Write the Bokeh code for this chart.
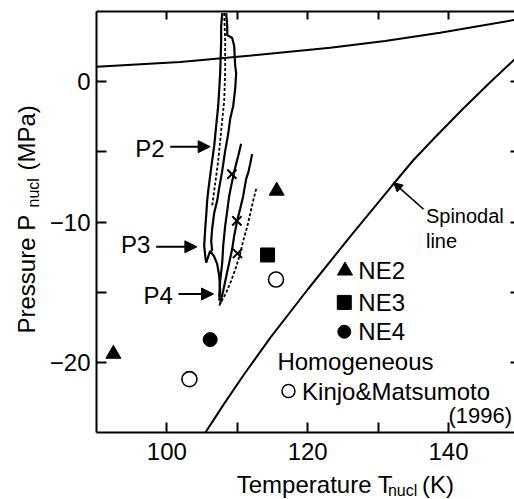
import math
from bokeh.plotting import figure
from bokeh.layouts import row, column
from bokeh.models import (LinearAxis, FixedTicker, CustomJSTickFormatter, Label,
                          Arrow, NormalHead, Range1d)
from bokeh.embed import file_html
from bokeh.resources import INLINE

FONT = "Liberation Sans"

# ---------------- data ----------------
# axis ticks
x_major = [100, 120, 140]
x_minor = [110, 130]
x_top = [100, 110, 120, 130, 140]
y_major = [-20, -10, 0]
y_minor = [-15, -5]
y_right = [-20, -15, -10, -5, 0]

# coexistence (saturation) line
coex_T = [90.0, 101.9, 112.0, 123.2, 131.0, 138.8, 149.3, 150.0]
coex_P = [1.07, 1.40, 1.86, 2.42, 2.90, 3.49, 4.39, 4.45]

# spinodal line
spin_T = [105.0, 105.4, 108.0, 111.0, 114.7, 120.0, 126.0, 132.0, 135.0, 138.0,
          142.0, 146.0, 150.0]
spin_P = [-25.37, -25.06, -23.05, -20.83, -18.24, -14.81, -11.06, -7.40, -5.60, -4.01,
          -1.97, -0.01, 1.88]

# nucleation points
ne2_T = [92.4, 115.6]
ne2_P = [-19.4, -7.78]
ne3_T = [114.3]
ne3_P = [-12.35]
ne4_T = [106.15]
ne4_P = [-18.38]
km_T = [103.2, 115.5]          # Homogeneous, Kinjo & Matsumoto (1996)
km_P = [-21.2, -14.1]
cross_T = [109.23, 109.94, 110.03]
cross_P = [-6.59, -9.92, -12.24]

# recorded T-P traces (solid parts)
p2_left_T = [107.86, 107.71, 107.71, 107.57, 107.29, 107.00, 106.72, 106.29, 105.87,
             105.72, 105.58, 105.44, 105.30, 105.44, 105.58]
p2_left_P = [4.89, 3.96, 2.90, 0.62, -1.73, -3.15, -4.58, -6.14, -7.78,
             -8.49, -9.56, -10.48, -11.69, -12.40, -12.90]
p3_foot_T = [105.58, 106.15, 106.72, 107.14, 107.43, 107.57, 107.43]
p3_foot_P = [-12.90, -12.05, -12.47, -12.98, -13.83, -14.90, -15.61]
p2_right_T = [108.42, 108.57, 108.57, 109.28, 109.56, 109.70, 109.84, 109.70, 109.42,
              108.99, 108.71, 108.28, 107.86, 107.43, 107.14, 106.72, 106.43, 106.29, 106.43]
p2_right_P = [4.89, 3.96, 3.32, 3.11, 2.54, 1.12, 0.62, -0.52, -1.73,
              -2.65, -3.72, -4.93, -6.36, -7.57, -8.49, -9.35, -10.48, -11.34, -12.05]
p3_T = [110.55, 110.13, 109.70, 109.28, 108.85, 108.57, 108.28, 108.00, 107.86, 107.57, 107.43]
p3_P = [-4.43, -5.29, -6.14, -7.07, -8.14, -9.20, -10.27, -11.69, -12.90, -14.19, -15.32]
p4_T = [112.11, 111.83, 111.55, 111.26, 110.84, 110.41, 109.98, 109.56, 109.28,
        108.85, 108.42, 108.00, 107.57]
p4_P = [-5.15, -5.86, -6.50, -6.93, -8.14, -9.06, -9.92, -10.98, -11.91,
        -12.90, -13.90, -14.90, -15.82]
# recorded traces (dashed parts)
p2_dash_T = [108.14, 108.28, 108.28, 108.14, 107.71, 107.29, 106.72, 106.43]
p2_dash_P = [4.89, 2.90, 0.76, -1.37, -3.51, -5.64, -7.78, -8.85]
p4_dash_T = [112.68, 112.26, 111.83, 111.41, 110.84, 110.41, 109.84, 109.13, 108.42, 107.43]
p4_dash_P = [-7.64, -8.49, -9.42, -10.34, -11.34, -12.26, -13.19, -14.19, -15.04, -15.96]

# ---------------- main figure ----------------
p = figure(width=470, height=470, x_range=Range1d(90, 149.38), y_range=Range1d(-25, 5),
           x_axis_type=None, y_axis_type=None, output_backend="svg",
           toolbar_location=None, min_border_left=52, min_border_right=0,
           min_border_top=11, min_border_bottom=38)
p.outline_line_color = None
p.background_fill_color = "white"
p.border_fill_color = "white"

common = dict(axis_line_width=2, axis_line_color="black",
              major_tick_line_width=2, minor_tick_line_width=2,
              major_tick_out=0, minor_tick_out=0,
              major_label_text_font=FONT)

bottom = LinearAxis(ticker=FixedTicker(ticks=x_major, minor_ticks=x_minor),
                    major_tick_in=10, minor_tick_in=10, major_label_text_color="black",
                    major_label_text_font_size="24px", major_label_standoff=10, **common)
p.add_layout(bottom, "below")

left = LinearAxis(ticker=FixedTicker(ticks=y_major, minor_ticks=y_minor),
                  major_tick_in=10, minor_tick_in=10, major_label_text_color="black",
                  major_label_text_font_size="24px", major_label_standoff=6,
                  formatter=CustomJSTickFormatter(
                      code="return tick < 0 ? '\u2212' + Math.abs(tick) : String(tick);"),
                  **common)
p.add_layout(left, "left")

top = LinearAxis(ticker=FixedTicker(ticks=x_top, minor_ticks=[]),
                 major_tick_in=8, minor_tick_in=0, major_label_text_color=None,
                 major_label_text_font_size="0px", major_label_standoff=0, **common)
p.add_layout(top, "above")

right_common = dict(common)
right_common["axis_line_color"] = None
right = LinearAxis(ticker=FixedTicker(ticks=y_right, minor_ticks=[]),
                   major_tick_in=4, minor_tick_in=0, major_label_text_color=None,
                   major_label_text_font_size="0px", major_label_standoff=0, **right_common)
p.add_layout(right, "right")

# curves
p.line(coex_T, coex_P, line_color="black", line_width=2)
p.line(spin_T, spin_P, line_color="black", line_width=2)

for tx, ty in [(p2_left_T, p2_left_P), (p3_foot_T, p3_foot_P), (p2_right_T, p2_right_P),
               (p3_T, p3_P), (p4_T, p4_P)]:
    p.line(tx, ty, line_color="black", line_width=2.2)
for tx, ty in [(p2_dash_T, p2_dash_P), (p4_dash_T, p4_dash_P)]:
    p.line(tx, ty, line_color="black", line_width=1.8, line_dash="3 2")

# points
p.scatter(cross_T, cross_P, marker="x", size=13, line_color="black", line_width=2)
p.scatter(ne2_T, ne2_P, marker="triangle", size=15, fill_color="black", line_color="black")
p.scatter(ne3_T, ne3_P, marker="square", size=14, fill_color="black", line_color="black")
p.scatter(ne4_T, ne4_P, marker="circle", size=14, fill_color="black", line_color="black")
p.scatter(km_T, km_P, marker="circle", size=15, fill_color="white", line_color="black",
          line_width=1.6)

# legend (drawn by hand to match the original layout)
p.scatter([125.3], [-13.47], marker="triangle", size=15, fill_color="black", line_color="black")
p.scatter([125.2], [-15.73], marker="square", size=14, fill_color="black", line_color="black")
p.scatter([125.2], [-17.82], marker="circle", size=13, fill_color="black", line_color="black")
p.scatter([117.27], [-22.05], marker="circle", size=13, fill_color="white", line_color="black",
          line_width=1.5)


def txt(fig, x, y, s, size="24px", align="left", baseline="middle", angle=0.0):
    fig.add_layout(Label(x=x, y=y, text=s, text_font=FONT, text_font_size=size,
                         text_color="black", text_align=align, text_baseline=baseline,
                         angle=angle))


txt(p, 127.2, -13.47, "NE2")
txt(p, 127.2, -15.73, "NE3")
txt(p, 127.2, -17.82, "NE4")
txt(p, 115.7, -19.93, "Homogeneous")
txt(p, 119.2, -22.1, "Kinjo&Matsumoto")
txt(p, 140.0, -23.79, "(1996)", size="22px")
txt(p, 136.8, -9.6, "Spinodal", size="20px")
txt(p, 136.8, -11.35, "line", size="20px")

txt(p, 95.51, -4.75, "P2")
txt(p, 93.47, -11.57, "P3")
txt(p, 96.68, -15.25, "P4")


def arrow(x0, y0, x1, y1, size=12, width=2):
    p.add_layout(Arrow(end=NormalHead(size=size, fill_color="black", line_color="black"),
                       x_start=x0, y_start=y0, x_end=x1, y_end=y1,
                       line_color="black", line_width=width))


arrow(100.47, -4.63, 106.15, -4.63)
arrow(98.48, -11.77, 104.26, -11.77)
arrow(101.65, -15.13, 106.62, -15.13)
arrow(136.45, -9.08, 132.19, -7.19, size=9, width=1.5)


# ---------------- axis-title strips (pixel-coordinate frames) ----------------
def strip(w, h, xr, yr):
    f = figure(width=w, height=h, x_range=xr, y_range=yr, x_axis_type=None,
               y_axis_type=None, output_backend="svg", toolbar_location=None,
               min_border=0, min_border_left=0, min_border_right=0,
               min_border_top=0, min_border_bottom=0)
    f.outline_line_color = None
    f.background_fill_color = "white"
    f.border_fill_color = "white"
    return f


fx = strip(470, 29, Range1d(44, 514), Range1d(499, 470))
txt(fx, 201.7, 484.0, "Temperature T")
txt(fx, 371.7, 489.8, "nucl", size="16px")
txt(fx, 410.0, 484.0, "(K)")

fy = strip(44, 499, Range1d(0, 44), Range1d(499, 0))
txt(fy, 25.7, 333.0, "Pressure P", angle=math.pi / 2)
txt(fy, 33.0, 207.0, "nucl", size="16px", angle=math.pi / 2)
txt(fy, 25.7, 170.0, "(MPa)", angle=math.pi / 2)

layout = row(fy, column(p, fx, spacing=0), spacing=0)

open("out.html", "w").write(file_html(layout, INLINE))
